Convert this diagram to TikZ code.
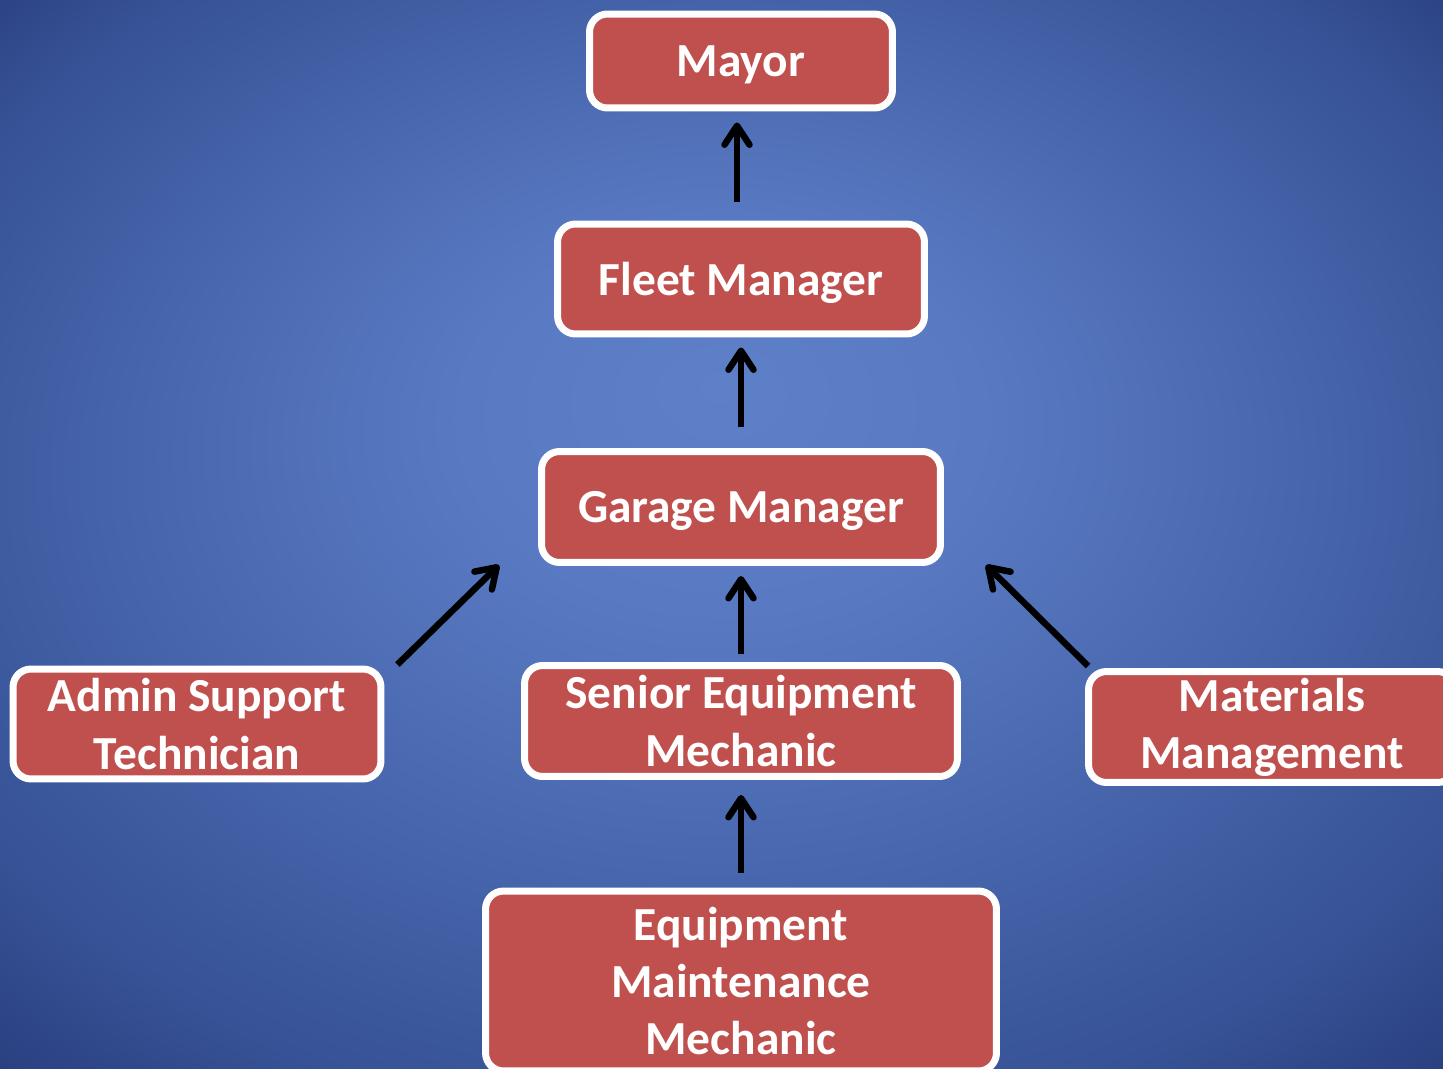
\documentclass[tikz,border=0pt]{standalone}
\usepackage{fontspec}
\setmainfont{Carlito}
\usetikzlibrary{calc,positioning}
\usetikzlibrary{arrows.meta}
\definecolor{postred}{RGB}{192,80,77}
\definecolor{bgin}{RGB}{94,128,200}
\definecolor{bgintwo}{RGB}{89,122,195}
\definecolor{bgmid}{RGB}{68,98,168}
\definecolor{bgedge}{RGB}{55,82,150}
\definecolor{bgout}{RGB}{32,52,114}
\pgfdeclareradialshading{bgglow}{\pgfpoint{0bp}{7bp}}{%
  color(0bp)=(bgin); color(9bp)=(bgintwo); color(22bp)=(bgmid);
  color(30bp)=(bgedge); color(40bp)=(bgout)}

\begin{document}
\begin{tikzpicture}%
  [x=0.02cm, y=-0.02cm, text=white,
   node font=\fontsize{27}{32.5}\selectfont\bfseries,
   post/.style={rectangle, draw=white, fill=postred, line width=0.14cm,
                rounded corners=0.36cm, align=center, inner sep=0pt},
   oneline/.style={text depth=0pt},
   link/.style={-{Straight Barb[length=0.38cm, width=0.5cm, round]},
                line width=0.13cm, black}]

  \useasboundingbox (0,0) rectangle (1443,1068);
  \shade[shading=bgglow] (0,0) rectangle (1443,1068);

  \node (mayor) at (741,61) [post, oneline, minimum width=6.06cm, minimum height=1.88cm] {Mayor};
  \node (fleet) at (741,279) [post, oneline, minimum width=7.34cm, minimum height=2.2cm] {Fleet Manager};
  \node (garage) at (741,507) [post, oneline, minimum width=7.98cm, minimum height=2.22cm] {Garage Manager};
  \node (admin) at (197,724) [post, minimum width=7.36cm, minimum height=2.2cm]
        {Admin Support\\Technician};
  \node (senior) at (741,721) [post, minimum width=8.66cm, minimum height=2.22cm]
        {Senior Equipment\\Mechanic};
  \node (materials) at (1272,727) [post, minimum width=7.34cm, minimum height=2.22cm]
        {Materials\\Management};
  \node (equip) at (741,981) [post, minimum width=10.22cm, minimum height=3.6cm]
        {Equipment\\Maintenance\\Mechanic};

  \draw[link, shorten <=0.38cm, shorten >=0.22cm] ([xshift=-0.08cm]fleet.north) -- ([xshift=-0.08cm]mayor.south);
  \draw[link, shorten <=0.42cm, shorten >=0.2cm] (garage) -- (fleet);
  \draw[link, shorten <=0.16cm, shorten >=0.2cm] (senior) -- (garage);
  \draw[link, shorten <=0.3cm, shorten >=0.3cm] (equip) -- (senior);

  \draw[link] ($(admin.north east)+(13,-1)$) -- ($(garage.south west)+(-39,-1)$);
  \draw[link] ($(materials.north west)+(3,-2)$) -- ($(garage.south east)+(42,-1)$);

\end{tikzpicture}
\end{document}
